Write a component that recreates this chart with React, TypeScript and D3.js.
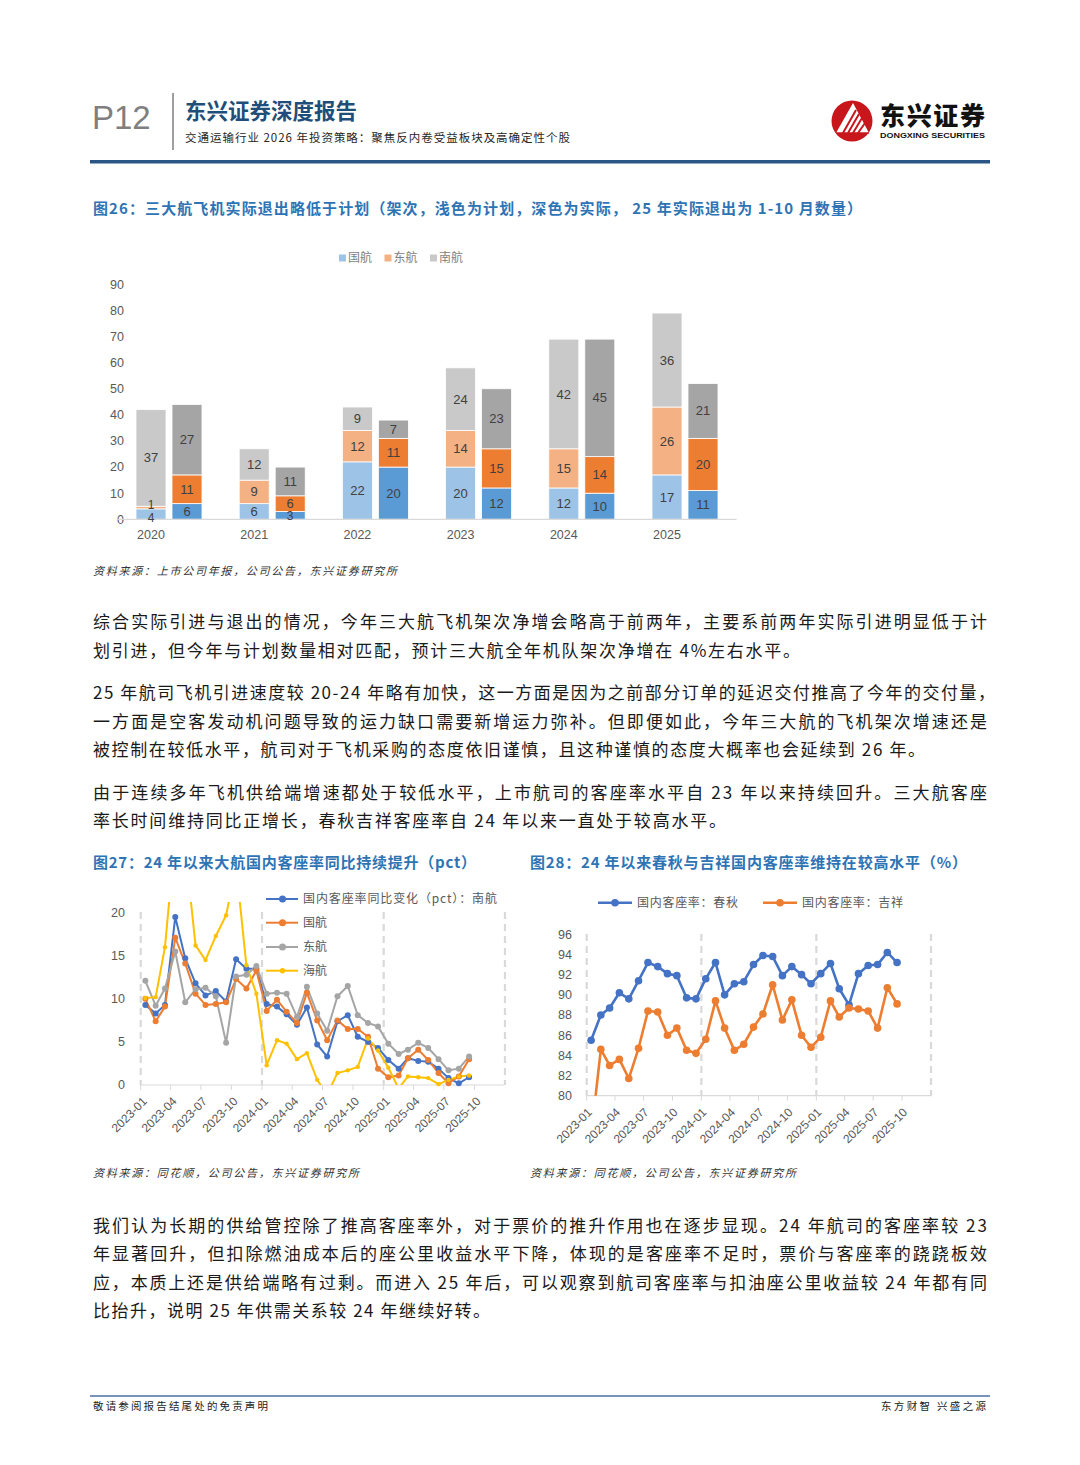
import React from 'react';
import * as d3 from 'd3';

// ---------- Figure 26 data ----------
const years = ['2020', '2021', '2022', '2023', '2024', '2025'];
const planAirChina = [4, 6, 22, 20, 12, 17];
const planEastern = [1, 9, 12, 14, 15, 26];
const planSouthern = [37, 12, 9, 24, 42, 36];
const actualAirChina = [6, 3, 20, 12, 10, 11];
const actualEastern = [11, 6, 11, 15, 14, 20];
const actualSouthern = [27, 11, 7, 23, 45, 21];
const barTicks = [0, 10, 20, 30, 40, 50, 60, 70, 80, 90];
const barLegend = ['国航', '东航', '南航'];

// ---------- Figure 27 data ----------
const months = [
  '2023-01', '2023-02', '2023-03', '2023-04', '2023-05', '2023-06', '2023-07', '2023-08', '2023-09', '2023-10', '2023-11', '2023-12',
  '2024-01', '2024-02', '2024-03', '2024-04', '2024-05', '2024-06', '2024-07', '2024-08', '2024-09', '2024-10', '2024-11', '2024-12',
  '2025-01', '2025-02', '2025-03', '2025-04', '2025-05', '2025-06', '2025-07', '2025-08', '2025-09',
];
const southernYoY = [9.3, 8.3, 9.3, 19.5, 14.7, 11.8, 10.4, 10.9, 9.7, 14.6, 13.5, 13.5, 9.4, 9.1, 8.2, 7.0, 9.0, 4.7, 3.3, 7.4, 8.1, 5.6, 5.0, 4.3, 2.9, 1.9, 3.1, 2.8, 2.7, 1.9, 0.8, 0.2, 0.9];
const airChinaYoY = [10.0, 7.4, 9.1, 17.1, 14.1, 10.6, 9.3, 9.4, 9.6, 12.3, 11.2, 13.3, 8.6, 9.9, 8.5, 7.2, 10.7, 7.5, 5.2, 7.5, 6.5, 6.5, 5.6, 1.9, 0.9, 1.1, 3.1, 4.1, 2.9, 1.4, 0.2, 1.0, 3.0];
const easternYoY = [12.1, 9.2, 11.2, 15.5, 9.6, 11.1, 11.3, 10.3, 4.9, 12.6, 12.8, 13.8, 10.6, 10.7, 10.6, 7.9, 11.4, 8.3, 6.3, 10.3, 11.5, 8.1, 7.2, 6.8, 4.8, 3.6, 4.1, 4.9, 4.3, 3.0, 1.7, 1.9, 3.3];
const hainanYoY = [10.1, 10.2, 16.0, 29.0, 27.5, 16.2, 14.5, 17.3, 19.7, 25.4, 13.9, 10.6, 2.3, 5.2, 4.8, 3.0, 3.7, 0.6, -1.1, 1.4, 1.7, 2.1, 5.4, 4.0, 2.0, -0.4, 1.0, 0.9, 0.8, 0.1, 0.6, 1.0, 1.1];
const yoyTicks = [0, 5, 10, 15, 20];
const yoyLegend = ['国内客座率同比变化（pct）：南航', '国航', '东航', '海航'];

// ---------- Figure 28 data ----------
const springLF = [85.5, 88.0, 88.7, 90.2, 89.6, 91.4, 93.2, 92.8, 92.1, 91.9, 89.7, 89.6, 91.6, 93.2, 90.0, 91.1, 91.3, 93.0, 93.9, 93.8, 91.9, 92.8, 92.0, 91.1, 92.1, 93.1, 90.6, 89.0, 92.1, 92.9, 93.0, 94.2, 93.2];
const juneyaoLF = [76.0, 84.6, 83.0, 83.6, 81.7, 84.7, 88.4, 88.3, 86.0, 86.7, 84.5, 84.2, 85.6, 89.4, 86.7, 84.5, 85.1, 86.8, 88.1, 91.0, 87.5, 89.5, 86.0, 84.8, 85.8, 89.4, 87.8, 88.7, 88.6, 88.4, 86.7, 90.7, 89.1];
const lfTicks = [80, 82, 84, 86, 88, 90, 92, 94, 96];
const lfLegend = ['国内客座率：春秋', '国内客座率：吉祥'];

const CJK = "'Noto Sans CJK SC', 'Noto Sans', sans-serif";
const NUM = "'Liberation Sans', Arial, sans-serif";
const AXIS_TXT = '#595959';
const TITLE_BLUE = '#2E74B5';

const parseMonth = d3.timeParse('%Y-%m');
const midMonth = (m: string) => {
  const d = parseMonth(m) as Date;
  return new Date(d.getFullYear(), d.getMonth(), 15);
};

function BarChart() {
  const x = d3.scaleBand<string>().domain(years).range([117.4, 736.6]);
  const y = d3.scaleLinear().domain([0, 90]).range([519.3, 284.3]);
  const keys = ['a', 'b', 'c'];
  const mk = (a: number[], b: number[], c: number[]) => years.map((yr, i) => ({ year: yr, a: a[i], b: b[i], c: c[i] }));
  const stack = d3.stack<any>().keys(keys);
  const planS = stack(mk(planAirChina, planEastern, planSouthern));
  const actS = stack(mk(actualAirChina, actualEastern, actualSouthern));
  const planColors = ['#9DC3E6', '#F4B183', '#C9C9C9'];
  const actColors = ['#5B9BD5', '#ED7D31', '#A5A5A5'];
  const bw = 30;
  const half = x.bandwidth() / 2;
  const groups = [
    { s: planS, colors: planColors, off: -33 },
    { s: actS, colors: actColors, off: 3 },
  ];
  // label positions, spreading labels of tiny stacked segments apart
  const labels: { key: string; x: number; y: number; v: number; fs: number }[] = [];
  const SEP = 13;
  groups.forEach((g, gi) => {
    years.forEach((yr, di) => {
      const x0 = (x(yr) as number) + half + g.off + bw / 2;
      const col = g.s.map((layer, li) => {
        const d: any = layer[di];
        const h = y(d[0]) - y(d[1]);
        return { key: `${gi}-${li}-${di}`, x: x0, y: (y(d[0]) + y(d[1])) / 2, v: d[1] - d[0], fs: h < 12 ? 12 : 13 };
      });
      for (let k = 1; k < col.length; k++) {
        const gap = col[k - 1].y - col[k].y;
        if (gap < SEP) {
          const push = (SEP - gap) / 2;
          col[k - 1].y += push;
          col[k].y -= push;
        }
      }
      labels.push(...col);
    });
  });
  return (
    <g>
      {barLegend.map((t, i) => (
        <g key={t} transform={`translate(${339 + i * 45.5},258)`}>
          <rect x={0} y={-3.5} width={7} height={7} fill={planColors[i]} />
          <text x={9} y={0} dy="0.35em" fontSize={12} fill="#7f7f7f" fontFamily={CJK}>{t}</text>
        </g>
      ))}
      {barTicks.map(t => (
        <text key={t} x={124} y={y(t)} dy="0.35em" textAnchor="end" fontSize={12.5} fill={AXIS_TXT} fontFamily={NUM}>{t}</text>
      ))}
      {groups.map((g, gi) => g.s.map((layer, li) => layer.map((d: any, di: number) => {
        const x0 = (x(d.data.year) as number) + half + g.off;
        return (
          <rect key={`${gi}-${li}-${di}`} x={x0} y={y(d[1])} width={bw} height={y(d[0]) - y(d[1])}
            fill={g.colors[li]} stroke="#fff" strokeWidth={0.8} />
        );
      })))}
      <line x1={117.4} x2={736.6} y1={519.3} y2={519.3} stroke="#D9D9D9" strokeWidth={1.2} />
      {labels.map(l => (
        <text key={l.key} x={l.x} y={l.y} dy="0.35em" textAnchor="middle" fontSize={l.fs} fill="#404040" fontFamily={NUM}>{l.v}</text>
      ))}
      {years.map(yr => (
        <text key={yr} x={(x(yr) as number) + half - 18} y={535} dy="0.35em" textAnchor="middle" fontSize={12.5} fill={AXIS_TXT} fontFamily={NUM}>{yr}</text>
      ))}
    </g>
  );
}

function LineChart27() {
  const x = d3.scaleTime().domain([new Date(2023, 0, 1), new Date(2026, 0, 1)]).range([140.7, 505]);
  const y = d3.scaleLinear().domain([0, 20]).range([1085, 912.7]);
  const dates = months.map(midMonth);
  const series = [
    { v: southernYoY, c: '#4472C4', r: 3 },
    { v: airChinaYoY, c: '#ED7D31', r: 3 },
    { v: easternYoY, c: '#A5A5A5', r: 3 },
    { v: hainanYoY, c: '#FFC000', r: 2.2 },
  ];
  const line = d3.line<number>().x((_, i) => x(dates[i])).y(d => y(d));
  const ticks = x.ticks(d3.timeMonth.every(3) as any).filter(d => d < new Date(2025, 10, 1));
  const grids = [new Date(2023, 0, 1), new Date(2024, 0, 1), new Date(2025, 0, 1), new Date(2026, 0, 1)];
  const fmt = d3.timeFormat('%Y-%m');
  return (
    <g>
      <defs>
        <clipPath id="clip27"><rect x={130} y={902} width={380} height={183} /></clipPath>
      </defs>
      {grids.map((g, i) => (
        <line key={i} x1={x(g)} x2={x(g)} y1={912} y2={1085} stroke="#D9D9D9" strokeWidth={2.2} strokeDasharray="7,5" />
      ))}
      {yoyTicks.map(t => (
        <text key={t} x={125} y={y(t)} dy="0.35em" textAnchor="end" fontSize={12.5} fill={AXIS_TXT} fontFamily={NUM}>{t}</text>
      ))}
      <line x1={140} x2={504} y1={1085} y2={1085} stroke="#D9D9D9" strokeWidth={1.2} />
      {ticks.map((t, i) => (
        <g key={i}>
          <line x1={x(t)} x2={x(t)} y1={1085} y2={1090} stroke="#D9D9D9" strokeWidth={1} />
          <text transform={`translate(${x(t) + 4},${1099}) rotate(-45)`} dy="0.35em" textAnchor="end" fontSize={12} fill={AXIS_TXT} fontFamily={NUM}>{fmt(t)}</text>
        </g>
      ))}
      <g clipPath="url(#clip27)">
        {series.map((s, si) => (
          <path key={si} d={line(s.v) as string} fill="none" stroke={s.c} strokeWidth={2} strokeLinejoin="round" />
        ))}
      </g>
      {series.map((s, si) => s.v.map((v, i) => (v >= 0 && v <= 21.2) ? (
        <circle key={`${si}-${i}`} cx={x(dates[i])} cy={y(v)} r={s.r} fill={s.c} />
      ) : null))}
      {yoyLegend.map((t, i) => {
        const cy = [899, 922.7, 947, 970.7][i];
        return (
          <g key={t}>
            <line x1={266} x2={298} y1={cy} y2={cy} stroke={series[i].c} strokeWidth={2} />
            <circle cx={282.5} cy={cy} r={series[i].r + 0.5} fill={series[i].c} />
            <text x={303} y={cy} dy="0.35em" fontSize={12} fill={AXIS_TXT} fontFamily={CJK}
              textLength={i === 0 ? 194 : undefined} lengthAdjust="spacing">{t}</text>
          </g>
        );
      })}
    </g>
  );
}

function LineChart28() {
  const x = d3.scaleTime().domain([new Date(2023, 0, 1), new Date(2026, 0, 1)]).range([586.7, 931]);
  const y = d3.scaleLinear().domain([80, 96]).range([1095.7, 934.3]);
  const dates = months.map(midMonth);
  const series = [
    { v: springLF, c: '#4472C4' },
    { v: juneyaoLF, c: '#ED7D31' },
  ];
  const line = d3.line<number>().x((_, i) => x(dates[i])).y(d => y(d));
  const ticks = x.ticks(d3.timeMonth.every(3) as any).filter(d => d < new Date(2025, 10, 1));
  const grids = [new Date(2023, 0, 1), new Date(2024, 0, 1), new Date(2025, 0, 1), new Date(2026, 0, 1)];
  const fmt = d3.timeFormat('%Y-%m');
  return (
    <g>
      <defs>
        <clipPath id="clip28"><rect x={580} y={920} width={360} height={175.7} /></clipPath>
      </defs>
      {grids.map((g, i) => (
        <line key={i} x1={x(g)} x2={x(g)} y1={934} y2={1095.7} stroke="#D9D9D9" strokeWidth={2.2} strokeDasharray="7,5" />
      ))}
      {lfTicks.map(t => (
        <text key={t} x={572} y={y(t)} dy="0.35em" textAnchor="end" fontSize={12.5} fill={AXIS_TXT} fontFamily={NUM}>{t}</text>
      ))}
      <line x1={586} x2={932} y1={1095.7} y2={1095.7} stroke="#D9D9D9" strokeWidth={1.2} />
      {ticks.map((t, i) => (
        <g key={i}>
          <line x1={x(t)} x2={x(t)} y1={1095.7} y2={1100.7} stroke="#D9D9D9" strokeWidth={1} />
          <text transform={`translate(${x(t) + 3},${1110}) rotate(-45)`} dy="0.35em" textAnchor="end" fontSize={12} fill={AXIS_TXT} fontFamily={NUM}>{fmt(t)}</text>
        </g>
      ))}
      <g clipPath="url(#clip28)">
        {series.map((s, si) => (
          <path key={si} d={line(s.v) as string} fill="none" stroke={s.c} strokeWidth={2.6} strokeLinejoin="round" />
        ))}
      </g>
      {series.map((s, si) => s.v.map((v, i) => v >= 80 ? (
        <circle key={`${si}-${i}`} cx={x(dates[i])} cy={y(v)} r={3.8} fill={s.c} />
      ) : null))}
      {lfLegend.map((t, i) => {
        const x0 = [598, 763][i];
        return (
          <g key={t}>
            <line x1={x0} x2={x0 + 34} y1={902.7} y2={902.7} stroke={series[i].c} strokeWidth={2.6} />
            <circle cx={x0 + 17} cy={902.7} r={3.8} fill={series[i].c} />
            <text x={x0 + 39} y={902.7} dy="0.35em" fontSize={12} fill={AXIS_TXT} fontFamily={CJK} textLength={101} lengthAdjust="spacing">{t}</text>
          </g>
        );
      })}
    </g>
  );
}

const Body = ({ lines }: { lines: { t: string; y: number; w: number }[] }) => (
  <g>
    {lines.map((l, i) => (
      <text key={i} x={93} y={l.y} dy="0.35em" fontSize={17} fill="#1a1a1a" fontFamily={CJK}
        textLength={l.w} lengthAdjust="spacing">{l.t}</text>
    ))}
  </g>
);

export default function App() {
  return (
    <svg width={1080} height={1465} viewBox="0 0 1080 1465"
      style={{ position: 'absolute', left: 0, top: 0, display: 'block', background: '#fff' }}>
      <rect x={0} y={0} width={1080} height={1465} fill="#fff" />
      {/* Header */}
      <text x={92} y={129} fontSize={33} fill="#7f7f7f" fontFamily={NUM}>P12</text>
      <line x1={173} x2={173} y1={93} y2={150} stroke="#7f7f7f" strokeWidth={1.5} />
      <text x={185} y={111} dy="0.35em" fontSize={21.5} fontWeight={700} fill="#1F4E79" fontFamily={CJK} textLength={172} lengthAdjust="spacing">东兴证券深度报告</text>
      <text x={185} y={138} dy="0.35em" fontSize={11.5} fill="#262626" fontFamily={CJK} textLength={385} lengthAdjust="spacing">交通运输行业 2026 年投资策略：聚焦反内卷受益板块及高确定性个股</text>
      {/* logo */}
      <circle cx={852} cy={121} r={20.5} fill="#C8161D" />
      <path d="M836,133 L853,103 L869,133 Z" fill="#fff" />
      <path d="M843,133 L856,110 M848,133 L859,114 M853,133 L862,118 M858,133 L865,123" stroke="#C8161D" strokeWidth={2} />
      <line x1={836} x2={869} y1={133} y2={133} stroke="#C8161D" strokeWidth={1.5} />
      <text x={880} y={116} dy="0.35em" fontSize={25} fontWeight={900} fill="#111" fontFamily={CJK} textLength={105} lengthAdjust="spacing">东兴证券</text>
      <text x={880} y={135.5} dy="0.35em" fontSize={8} fontWeight={700} fill="#111" fontFamily={NUM} textLength={105} lengthAdjust="spacingAndGlyphs">DONGXING SECURITIES</text>
      <rect x={90} y={160} width={900} height={3.5} fill="#2B5585" />

      {/* Figure 26 */}
      <text x={93} y={209} dy="0.35em" fontSize={15} fontWeight={700} fill={TITLE_BLUE} fontFamily={CJK} textLength={769} lengthAdjust="spacing">图26：三大航飞机实际退出略低于计划（架次，浅色为计划，深色为实际，  25 年实际退出为 1-10 月数量）</text>
      <BarChart />
      <text x={93} y={571} dy="0.35em" fontSize={11} fontStyle="italic" fill="#333" fontFamily={CJK} textLength={304} lengthAdjust="spacing">资料来源：上市公司年报，公司公告，东兴证券研究所</text>

      <Body lines={[
        { t: '综合实际引进与退出的情况，今年三大航飞机架次净增会略高于前两年，主要系前两年实际引进明显低于计', y: 622, w: 894 },
        { t: '划引进，但今年与计划数量相对匹配，预计三大航全年机队架次净增在 4%左右水平。', y: 651, w: 707 },
        { t: '25 年航司飞机引进速度较 20-24 年略有加快，这一方面是因为之前部分订单的延迟交付推高了今年的交付量，', y: 693, w: 902 },
        { t: '一方面是空客发动机问题导致的运力缺口需要新增运力弥补。但即便如此，今年三大航的飞机架次增速还是', y: 722, w: 894 },
        { t: '被控制在较低水平，航司对于飞机采购的态度依旧谨慎，且这种谨慎的态度大概率也会延续到 26 年。', y: 750, w: 832 },
        { t: '由于连续多年飞机供给端增速都处于较低水平，上市航司的客座率水平自 23 年以来持续回升。三大航客座', y: 793, w: 894 },
        { t: '率长时间维持同比正增长，春秋吉祥客座率自 24 年以来一直处于较高水平。', y: 821, w: 633 },
      ]} />

      {/* Figure 27 / 28 titles */}
      <text x={93} y={863} dy="0.35em" fontSize={15} fontWeight={700} fill={TITLE_BLUE} fontFamily={CJK} textLength={383} lengthAdjust="spacing">图27：24 年以来大航国内客座率同比持续提升（pct）</text>
      <text x={530} y={863} dy="0.35em" fontSize={15} fontWeight={700} fill={TITLE_BLUE} fontFamily={CJK} textLength={437} lengthAdjust="spacing">图28：24 年以来春秋与吉祥国内客座率维持在较高水平（%）</text>
      <LineChart27 />
      <LineChart28 />
      <text x={93} y={1173} dy="0.35em" fontSize={11} fontStyle="italic" fill="#333" fontFamily={CJK} textLength={266} lengthAdjust="spacing">资料来源：同花顺，公司公告，东兴证券研究所</text>
      <text x={530} y={1173} dy="0.35em" fontSize={11} fontStyle="italic" fill="#333" fontFamily={CJK} textLength={266} lengthAdjust="spacing">资料来源：同花顺，公司公告，东兴证券研究所</text>

      <Body lines={[
        { t: '我们认为长期的供给管控除了推高客座率外，对于票价的推升作用也在逐步显现。24 年航司的客座率较 23', y: 1226, w: 894 },
        { t: '年显著回升，但扣除燃油成本后的座公里收益水平下降，体现的是客座率不足时，票价与客座率的跷跷板效', y: 1254, w: 894 },
        { t: '应，本质上还是供给端略有过剩。而进入 25 年后，可以观察到航司客座率与扣油座公里收益较 24 年都有同', y: 1283, w: 894 },
        { t: '比抬升，说明 25 年供需关系较 24 年继续好转。', y: 1311, w: 397 },
      ]} />

      {/* Footer */}
      <line x1={90} x2={990} y1={1396} y2={1396} stroke="#4A6FA0" strokeWidth={1.5} />
      <text x={93} y={1406} dy="0.35em" fontSize={10.5} fill="#222" fontFamily={CJK} textLength={175} lengthAdjust="spacing">敬请参阅报告结尾处的免责声明</text>
      <text x={881} y={1406} dy="0.35em" fontSize={10.5} fill="#222" fontFamily={CJK} textLength={105} lengthAdjust="spacing">东方财智 兴盛之源</text>
    </svg>
  );
}
